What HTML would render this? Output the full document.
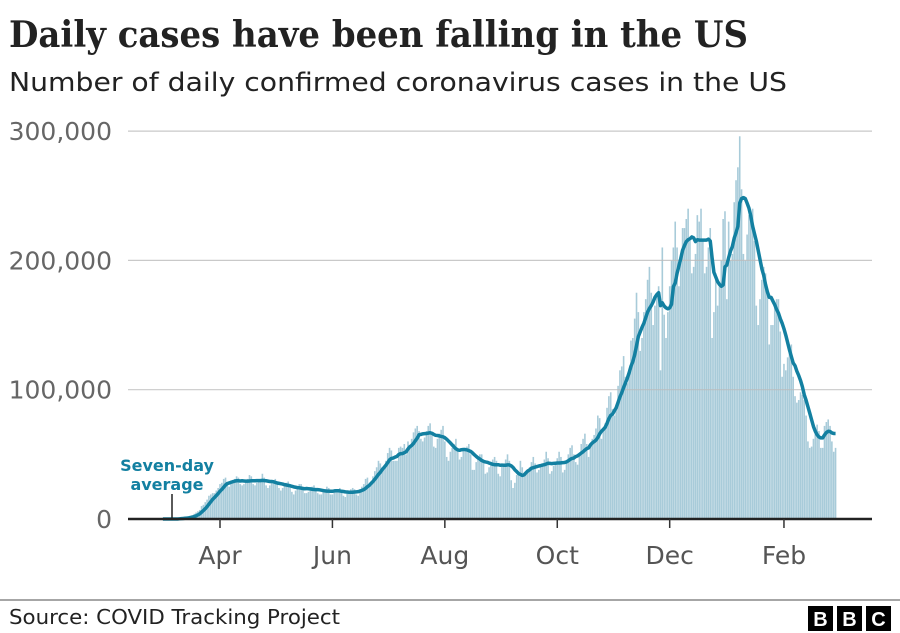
<!DOCTYPE html>
<html><head><meta charset="utf-8"><style>
body{margin:0;background:#fff;width:900px;height:633px;overflow:hidden;font-family:"Liberation Sans",sans-serif}
svg{display:block}
</style></head><body>
<svg width="900" height="633">
<text x="9" y="47" font-family="DejaVu Serif,serif" font-weight="bold" font-size="36" fill="#222" textLength="739" lengthAdjust="spacingAndGlyphs">Daily cases have been falling in the US</text>
<text x="9" y="91" font-family="DejaVu Sans,sans-serif" font-size="26" fill="#222" textLength="778" lengthAdjust="spacingAndGlyphs">Number of daily confirmed coronavirus cases in the US</text>
<g id="bars"></g>
<g id="grid"></g>
<g id="ylab"></g>
<path id="avg" fill="none" stroke="#1380a1" stroke-width="3.5" stroke-linejoin="round"/>
<line x1="128" y1="519" x2="872" y2="519" stroke="#222" stroke-width="2.5"/>
<g id="xlab"></g>
<text x="167" y="471" text-anchor="middle" font-family="DejaVu Sans,sans-serif" font-weight="bold" font-size="16" fill="#1380a1"><tspan x="167">Seven-day</tspan><tspan x="167" dy="19">average</tspan></text>
<line x1="172" y1="494" x2="172" y2="518" stroke="#222" stroke-width="1.5"/>
<line x1="0" y1="600" x2="900" y2="600" stroke="#888" stroke-width="1.5"/>
<text x="9" y="624" font-family="DejaVu Sans,sans-serif" font-size="20" fill="#222" textLength="331" lengthAdjust="spacingAndGlyphs">Source: COVID Tracking Project</text>
<g>
<rect x="808" y="606" width="25" height="25" fill="#000"/><text x="820.5" y="626" text-anchor="middle" font-weight="bold" font-size="20" fill="#fff">B</text>
<rect x="837" y="606" width="25" height="25" fill="#000"/><text x="849.5" y="626" text-anchor="middle" font-weight="bold" font-size="20" fill="#fff">B</text>
<rect x="866" y="606" width="25" height="25" fill="#000"/><text x="878.5" y="626" text-anchor="middle" font-weight="bold" font-size="20" fill="#fff">C</text>
</g>
</svg>
<script>
// daily cases in thousands, starting Sun 1 Mar 2020
const dailyCases=[
0,0,0,0,0,0,0, 0,0,1,1,1,1,1, 1,2,3,4,5,6,7, 10,11,13,15,18,19,20,
20,22,24,27,28,31,32, 28,25,28,30,31,33,32, 27,26,27,29,31,34,33, 27,26,28,29,31,35,32,
26,24,26,29,30,31,29, 24,22,24,26,28,29,27, 21,19,22,24,27,27,25, 20,20,21,23,25,26,24,
20,19,19,21,23,25,24, 19,19,21,22,23,24,22, 18,17,20,21,23,24,23, 19,18,23,25,27,31,32,
26,29,33,37,40,45,43, 40,41,45,51,55,53,45, 45,45,55,56,55,58,50, 60,57,62,67,70,72,68,
62,60,63,68,72,74,65, 56,55,62,66,69,72,60, 48,45,52,55,58,62,54, 46,48,53,55,56,58,50,
38,38,44,47,50,50,45, 35,36,40,44,46,48,45, 35,33,41,43,46,50,45, 30,24,28,34,35,45,40,
33,35,38,40,44,48,43, 36,38,40,43,46,52,47, 35,37,41,44,47,52,48, 36,38,44,50,55,57,50,
44,42,51,58,62,66,58, 48,58,62,65,70,80,78, 62,68,74,86,95,98,85, 80,85,103,115,118,126,110,
105,115,138,140,155,175,160, 130,140,160,170,185,195,175, 150,165,175,180,115,210,158,
140,160,180,200,210,230,210, 180,200,225,225,232,240,215, 190,195,205,235,230,240,215,
190,195,210,225,140,160,190, 165,180,200,232,238,170,230, 200,205,245,262,272,296,255,
205,200,220,235,230,240,215, 165,150,170,185,195,190,175, 135,150,150,165,170,170,145,
110,120,115,125,130,135,110, 95,90,92,98,96,92,80, 60,55,56,62,70,73,68,
55,55,72,75,77,72,60, 52,55];
const yTicks=[0,100,200,300];
const yTickLabels=["0","100,000","200,000","300,000"];
const monthDays=[31,92,153,214,275,337];
const monthLabels=["Apr","Jun","Aug","Oct","Dec","Feb"];

const NS="http://www.w3.org/2000/svg";
const xS=i=>220+(i-31)*1.843;
const yS=v=>519-v*1.293;
function mk(t,a,p){const e=document.createElementNS(NS,t);for(const k in a)e.setAttribute(k,a[k]);p.appendChild(e);return e;}
const bars=document.getElementById('bars');
dailyCases.forEach((v,i)=>{
  const r=mk('rect',{x:(xS(i)-0.8).toFixed(2),y:yS(v).toFixed(2),width:1.6,height:(519-yS(v)).toFixed(2),fill:'#a8cbd9'},bars);
  
  
});
const grid=document.getElementById('grid'),ylab=document.getElementById('ylab');
yTicks.forEach((v,k)=>{
  if(v>0){const l=mk('line',{x1:128,x2:872,y1:yS(v),y2:yS(v),stroke:'#bbb','stroke-width':1.2,'stroke-opacity':0.8},grid);
  
  }
  const t=mk('text',{x:112,y:yS(v)+9,'text-anchor':'end','font-size':25,'font-family':'DejaVu Sans,sans-serif',fill:'#666'},ylab);
  t.textContent=yTickLabels[k];
  
  
});
const xlab=document.getElementById('xlab');
monthDays.forEach((d,k)=>{
  const l=mk('line',{x1:xS(d),x2:xS(d),y1:519,y2:528,stroke:'#333','stroke-width':1.5},xlab);
  
  
  const t=mk('text',{x:xS(d),y:564,'text-anchor':'middle','font-size':25,'font-family':'DejaVu Sans,sans-serif',fill:'#555'},xlab);
  t.textContent=monthLabels[k];
  
  
});
let d='';
dailyCases.forEach((v,i)=>{
  const s=Math.max(0,i-6);let sum=0;for(let j=s;j<=i;j++)sum+=dailyCases[j];
  const m=sum/(i-s+1);
  d+=(i?'L':'M')+xS(i).toFixed(2)+' '+yS(m).toFixed(2);
});
document.getElementById('avg').setAttribute('d',d);
</script>
</body></html>
